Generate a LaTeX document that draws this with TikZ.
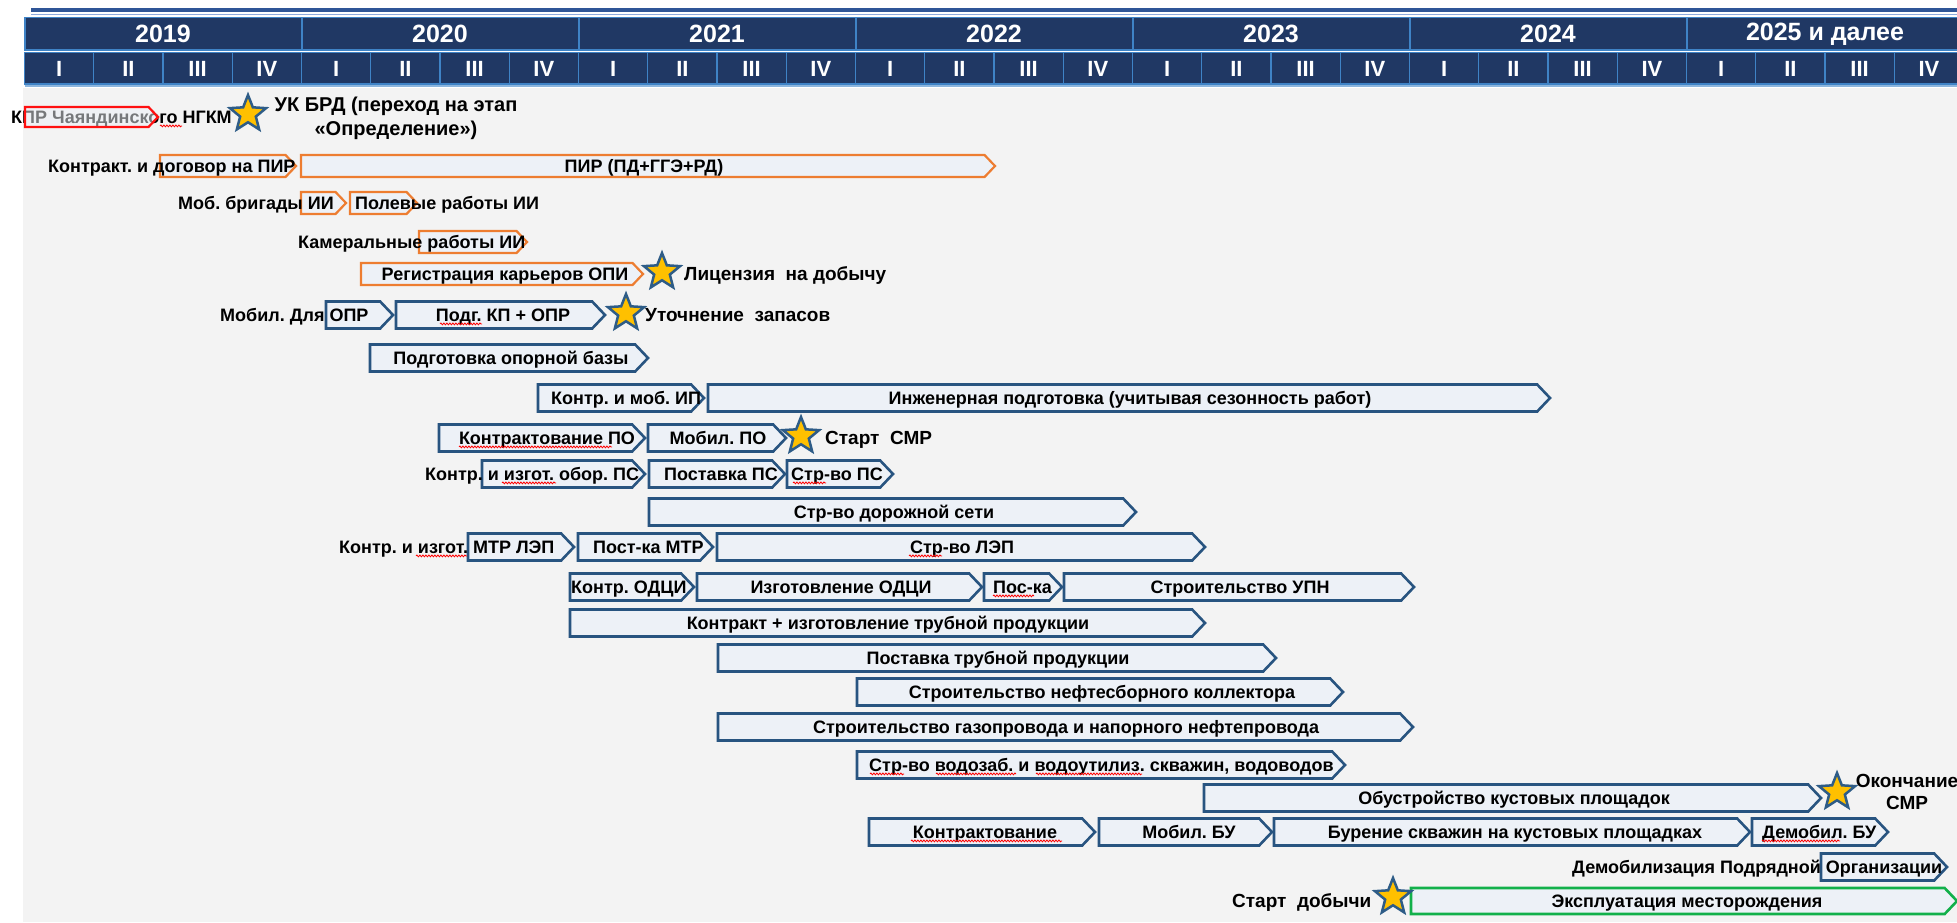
\documentclass[tikz,border=0pt]{standalone}
\usepackage{fontspec}
\setmainfont{Liberation Sans}
\usetikzlibrary{shapes.geometric,decorations.pathmorphing}
\frenchspacing

\definecolor{navy}{HTML}{203864}
\definecolor{gridblue}{HTML}{3F83C6}
\definecolor{topline}{HTML}{2F5597}
\definecolor{toplight}{HTML}{8FAADC}
\definecolor{bg}{HTML}{F3F3F3}
\definecolor{barfill}{HTML}{EDF1F7}
\definecolor{barblue}{HTML}{285480}
\definecolor{barorange}{HTML}{ED7D31}
\definecolor{barred}{HTML}{FF1010}
\definecolor{bargreen}{HTML}{12B04A}
\definecolor{gold}{HTML}{FFC000}
\definecolor{starline}{HTML}{2E5C87}

\tikzset{
  bluebar/.style={draw=barblue, fill=barfill, line width=2.6pt},
  orangebar/.style={draw=barorange, fill=barfill, line width=2.2pt},
  redbar/.style={draw=barred, fill=barfill, fill opacity=0.5, line width=2.2pt},
  greenbar/.style={draw=bargreen, fill=barfill, line width=2.6pt},
  lbl/.style={font=\bfseries\fontsize{18}{18}\selectfont, inner sep=0pt,
              text height=12.9pt, text depth=0pt},
  mlbl/.style={font=\bfseries\fontsize{19}{19}\selectfont, inner sep=0pt,
               text height=13.6pt, text depth=0pt},
  yearlbl/.style={font=\bfseries\fontsize{25}{25}\selectfont, text=white, inner sep=0pt},
  qlbl/.style={font=\bfseries\fontsize{22}{22}\selectfont, text=white, inner sep=0pt},
  milestone/.style={star, star points=5, star point ratio=2.3, minimum size=38pt,
                    inner sep=0pt, draw=starline, fill=gold, line width=2.5pt},
  spell/.style={draw=red, line width=0.8pt, decorate,
                decoration={snake, amplitude=0.9pt, segment length=3pt}},
}

% task bar: style, x start, x of the tip, y centre, half height
\newcommand\gbar[5]{%
  \draw[#1] (#2,#4-#5) -- ({#3-0.95*#5},#4-#5) -- (#3,#4)
            -- ({#3-0.95*#5},#4+#5) -- (#2,#4+#5) -- cycle;}
% wavy spell-check mark under a word: x from, x to, row centre
\newcommand\spell[3]{\draw[spell] (#1,#3+8.9) -- (#2,#3+8.9);}

\begin{document}
\begin{tikzpicture}[x=1pt,y=-1pt]
\useasboundingbox (0,0) rectangle (1957,922);
\fill[white] (0,0) rectangle (1957,922);
\fill[bg] (22.5,88) rectangle (1957,922);

% top rule
\draw[topline, line width=4.5pt] (31,9.8) -- (1957,9.8);
\draw[toplight, line width=1.2pt] (31,14.2) -- (1957,14.2);

% header: years and quarters
\def\qw{69.25}
\fill[navy] (24.5,17.5) rectangle (1957,50);
\fill[navy] (24.5,52.5) rectangle (1957,84);
\draw[gridblue, line width=1.6pt] (24.5,17.5) rectangle (1970,50);
\draw[gridblue, line width=1.6pt] (24.5,52.5) rectangle (1970,84);
\draw[gridblue!60!white, line width=1.2pt] (24.5,86) -- (1957,86);
\foreach \yr [count=\i from 0] in {2019,2020,2021,2022,2023,2024,{2025 и далее}} {
  \pgfmathsetmacro\xa{24.5+\i*4*\qw}
  \draw[gridblue, line width=2pt] (\xa,17.5) -- (\xa,50);
  \node[yearlbl] (year\i) at (\xa+2*\qw,34) {\yr};
  \foreach \q [count=\j from 0] in {I,II,III,IV} {
    \pgfmathsetmacro\xq{\xa+\j*\qw}
    \draw[gridblue, line width=1.4pt] (\xq,52.5) -- (\xq,84);
    \node[qlbl] (q\i-\j) at (\xq+\qw/2,68.5) {\q};
  }
}

% row 1
\node[lbl, anchor=west] (kpr) at (11,117) {КПР Чаяндинского НГКМ};
\gbar{redbar}{25}{158}{117}{10}
\spell{160}{182}{117}
\node[milestone] (m-ukbrd) at (248,114) {};
\node[mlbl, font=\bfseries\fontsize{20}{20}\selectfont] (ukbrd1) at (396,105) {УК БРД (переход на этап};
\node[mlbl, font=\bfseries\fontsize{20}{20}\selectfont] (ukbrd2) at (396,129) {«Определение»)};

% rows 2-5: design and survey
\gbar{orangebar}{160}{296}{166}{11}
\gbar{orangebar}{301}{995}{166}{11}
\node[lbl, anchor=west] (contr-pir) at (48,166) {Контракт. и договор на ПИР};
\node[lbl] (pir) at (644,166) {ПИР (ПД+ГГЭ+РД)};

\gbar{orangebar}{301}{346}{203}{11}
\gbar{orangebar}{350}{417}{203}{11}
\node[lbl, anchor=west] (mob-ii) at (178,203) {Моб. бригады ИИ};
\node[lbl, anchor=west] (field-ii) at (355,203) {Полевые работы ИИ};

\gbar{orangebar}{419}{527}{242}{11}
\node[lbl, anchor=west] (office-ii) at (298,242) {Камеральные работы ИИ};

\gbar{orangebar}{361}{643}{274}{11}
\node[lbl] (quarry) at (505,274) {Регистрация карьеров ОПИ};
\node[milestone] (m-lic) at (662,272) {};
\node[mlbl, anchor=west] (lic) at (684,274) {Лицензия\ \ на добычу};

% row 6-7
\gbar{bluebar}{326}{393}{315}{13.5}
\gbar{bluebar}{396}{605}{315}{13.5}
\node[lbl, anchor=west] (mob-opr) at (220,315) {Мобил. Для ОПР};
\node[lbl] (kp-opr) at (503,315) {Подг. КП + ОПР};
\spell{440}{482}{315}
\node[milestone] (m-res) at (626,313) {};
\node[mlbl, anchor=west] (res) at (645,315) {Уточнение\ \ запасов};

\gbar{bluebar}{370}{648}{358}{13.5}
\node[lbl] (base) at (511,358) {Подготовка опорной базы};

% row 8
\gbar{bluebar}{538}{704}{398}{13.5}
\gbar{bluebar}{708}{1550}{398}{13.5}
\node[lbl, anchor=west] (contr-ip) at (551,398) {Контр. и моб. ИП};
\node[lbl] (eng) at (1130,398) {Инженерная подготовка (учитывая сезонность работ)};

% row 9
\gbar{bluebar}{439}{645}{438}{13.5}
\gbar{bluebar}{648}{786}{438}{13.5}
\node[lbl] (contr-po) at (547,438) {Контрактование ПО};
\spell{459}{612}{438}
\node[lbl] (mob-po) at (718,438) {Мобил. ПО};
\node[milestone] (m-smr) at (801,436) {};
\node[mlbl, anchor=west] (smr) at (825,438) {Старт\ \ СМР};

% row 10
\gbar{bluebar}{482}{645}{474}{13.5}
\gbar{bluebar}{649}{785}{474}{13.5}
\gbar{bluebar}{787}{893}{474}{13.5}
\node[lbl, anchor=west] (contr-ps) at (425,474) {Контр. и изгот. обор. ПС};
\spell{502}{556}{474}
\node[lbl, anchor=west] (sup-ps) at (664,474) {Поставка ПС};
\node[lbl, anchor=west] (build-ps) at (791,474) {Стр-во ПС};
\spell{793}{826}{474}

% row 11
\gbar{bluebar}{649}{1136}{512}{13.5}
\node[lbl] (roads) at (894,512) {Стр-во дорожной сети};

% row 12
\gbar{bluebar}{468}{574}{547}{13.5}
\gbar{bluebar}{578}{713}{547}{13.5}
\gbar{bluebar}{717}{1205}{547}{13.5}
\node[lbl, anchor=west] (contr-lep) at (339,547) {Контр. и изгот. МТР ЛЭП};
\spell{416}{467}{547}
\node[lbl, anchor=west] (sup-lep) at (593,547) {Пост-ка МТР};
\node[lbl] (build-lep) at (962,547) {Стр-во ЛЭП};
\spell{909}{942}{547}

% row 13
\gbar{bluebar}{570}{694}{587}{13.5}
\gbar{bluebar}{697}{982}{587}{13.5}
\gbar{bluebar}{984}{1062}{587}{13.5}
\gbar{bluebar}{1064}{1414}{587}{13.5}
\node[lbl, anchor=west] (contr-odci) at (571,587) {Контр. ОДЦИ};
\node[lbl] (make-odci) at (841,587) {Изготовление ОДЦИ};
\node[lbl, anchor=west] (sup-odci) at (993,587) {Пос-ка};
\spell{993}{1034}{587}
\node[lbl] (upn) at (1240,587) {Строительство УПН};

% rows 14-18: pipelines and water wells
\gbar{bluebar}{570}{1205}{623}{13.5}
\node[lbl] (pipe-make) at (888,623) {Контракт + изготовление трубной продукции};
\gbar{bluebar}{718}{1276}{658}{13.5}
\node[lbl] (pipe-sup) at (998,658) {Поставка трубной продукции};
\gbar{bluebar}{857}{1343}{692}{13.5}
\node[lbl] (collector) at (1102,692) {Строительство нефтесборного коллектора};
\gbar{bluebar}{718}{1413}{727}{13.5}
\node[lbl] (gasline) at (1066,727) {Строительство газопровода и напорного нефтепровода};
\gbar{bluebar}{857}{1345}{765}{13.5}
\node[lbl, anchor=west] (water) at (869,765) {Стр-во водозаб. и водоутилиз. скважин, водоводов};
\spell{870}{904}{765}
\spell{936}{1016}{765}
\spell{1036}{1142}{765}

% row 19
\gbar{bluebar}{1204}{1821}{798}{13.5}
\node[lbl] (pads) at (1514,798) {Обустройство кустовых площадок};
\node[milestone] (m-end) at (1837,792) {};
\node[mlbl] (end1) at (1907,781) {Окончание};
\node[mlbl] (end2) at (1907,803) {СМР};

% row 20: drilling
\gbar{bluebar}{869}{1095}{832}{13.5}
\gbar{bluebar}{1099}{1272}{832}{13.5}
\gbar{bluebar}{1274}{1750}{832}{13.5}
\gbar{bluebar}{1752}{1888}{832}{13.5}
\node[lbl] (contr-bu) at (985,832) {Контрактование};
\spell{911}{1062}{832}
\node[lbl] (mob-bu) at (1189,832) {Мобил. БУ};
\node[lbl] (drill) at (1515,832) {Бурение скважин на кустовых площадках};
\node[lbl, anchor=west] (demob-bu) at (1762,832) {Демобил. БУ};
\spell{1762}{1840}{832}

% row 21
\gbar{bluebar}{1821}{1947}{867}{13.5}
\node[lbl, anchor=west] (demob) at (1572,867) {Демобилизация Подрядной Организации};

% row 22
\gbar{greenbar}{1411}{1957}{901}{13}
\node[lbl] (oper) at (1687,901) {Эксплуатация месторождения};
\node[milestone] (m-prod) at (1393,897) {};
\node[mlbl, anchor=west] (prod) at (1232,901) {Старт\ \ добычи};
\end{tikzpicture}
\end{document}
